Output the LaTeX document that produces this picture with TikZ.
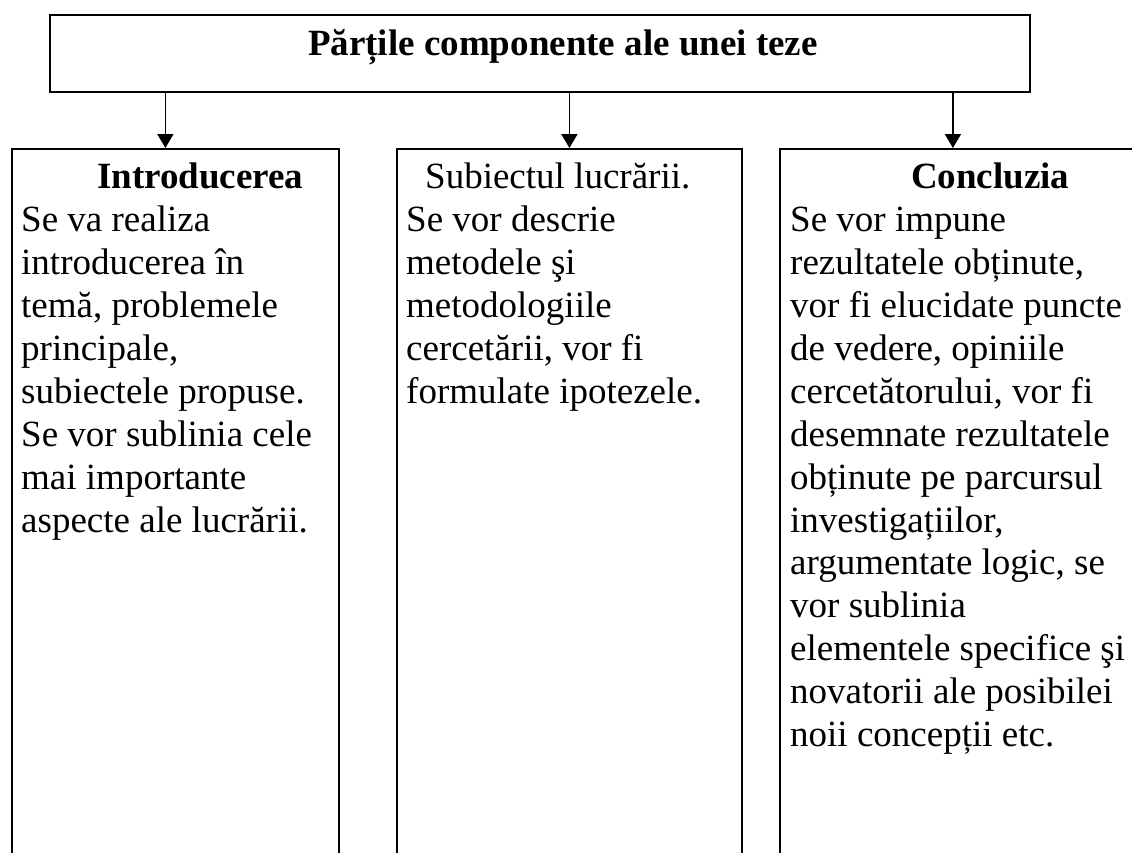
\documentclass[tikz,border=0pt]{standalone}
\usepackage{fontspec}
\setmainfont{Liberation Serif}
\usetikzlibrary{arrows.meta,positioning}

\tikzset{
  part/.style={draw, line width=1.8pt, anchor=north west, inner sep=0pt},
  body/.style={align=left, inner sep=0pt, font=\fontsize{37}{42.9}\selectfont},
  arr/.style={line width=1.8pt, -{Triangle[length=14pt,width=16pt]}}
}

\begin{document}
\begin{tikzpicture}[x=1pt,y=-1pt]
  \clip (0,0) rectangle (1132,852);
  % top box
  \node[part, minimum width=980pt, minimum height=77pt] (title) at (49,14) {};
  \node[body, font=\fontsize{37}{42.9}\selectfont\bfseries, anchor=base] (titletext)
    at ([xshift=23pt,yshift=-2.5pt]title.center) {Părțile componente ale unei teze};
  % three parts
  \node[part, minimum width=327pt, minimum height=760pt] (intro) at (11,148) {};
  \node[part, minimum width=345pt, minimum height=760pt] (subj) at (396,148) {};
  \node[part, minimum width=420pt, minimum height=760pt] (concl) at (779,148) {};
  \node[body, below right=15pt and 10pt of intro.north west] (introtext) {%
    \hspace*{76pt}\textbf{Introducerea}\\
    Se va realiza\\
    introducerea în\\
    temă, problemele\\
    principale,\\
    subiectele propuse.\\
    Se vor sublinia cele\\
    mai importante\\
    aspecte ale lucrării.};
  \node[body, below right=15pt and 10pt of subj.north west] (subjtext) {%
    \hspace*{19pt}Subiectul lucrării.\\
    Se vor descrie\\
    metodele şi\\
    metodologiile\\
    cercetării, vor fi\\
    formulate ipotezele.};
  \node[body, below right=15pt and 11pt of concl.north west] (concltext) {%
    \hspace*{121pt}\textbf{Concluzia}\\
    Se vor impune\\
    rezultatele obținute,\\
    vor fi elucidate puncte\\
    de vedere, opiniile\\
    cercetătorului, vor fi\\
    desemnate rezultatele\\
    obținute pe parcursul\\
    investigațiilor,\\
    argumentate logic, se\\
    vor sublinia\\
    elementele specifice şi\\
    novatorii ale posibilei\\
    noii concepții etc.};
  % arrows
  \draw[arr] ([xshift=-10pt]intro.north |- title.south) -- ([xshift=-10pt]intro.north);
  \draw[arr] (subj.north |- title.south) -- (subj.north);
  \draw[arr] ([xshift=-37pt]concl.north |- title.south) -- ([xshift=-37pt]concl.north);
\end{tikzpicture}
\end{document}
